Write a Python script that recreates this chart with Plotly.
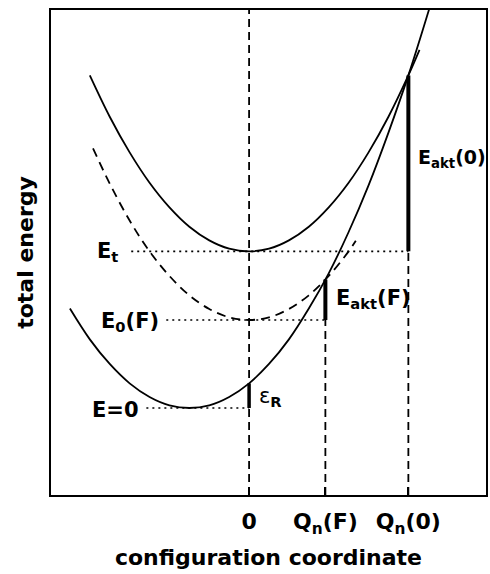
import plotly.graph_objects as go

# ---- data ----
ground_q = [-2.25, -2.0, -1.75, -1.5, -1.25, -1.0, -0.75, -0.5, -0.25, 0.0, 0.25, 0.5, 0.75, 1.0, 1.25, 1.5, 1.75, 2.0, 2.25, 2.4]
ground_e = [1.13, 0.78, 0.50, 0.28, 0.125, 0.03, 0.0, 0.03, 0.125, 0.28, 0.50, 0.78, 1.13, 1.53, 2.0, 2.53, 3.13, 3.78, 4.5, 4.96]

upper_q = [-2.0, -1.75, -1.5, -1.25, -1.0, -0.75, -0.5, -0.25, 0.0, 0.25, 0.5, 0.75, 1.0, 1.25, 1.5, 1.75, 2.0, 2.14]
upper_e = [3.78, 3.31, 2.905, 2.56, 2.28, 2.06, 1.905, 1.81, 1.78, 1.81, 1.905, 2.06, 2.28, 2.56, 2.905, 3.31, 3.78, 4.07]

field_q = [-1.96, -1.75, -1.5, -1.25, -1.0, -0.75, -0.5, -0.25, 0.0, 0.25, 0.5, 0.75, 1.0, 1.25, 1.34]
field_e = [2.95, 2.55, 2.13, 1.78, 1.5, 1.28, 1.125, 1.03, 1.0, 1.03, 1.125, 1.28, 1.5, 1.78, 1.9]

tick_vals = [0.0, 0.958, 2.0]
tick_text = ["0", "Q<sub>n</sub>(F)", "Q<sub>n</sub>(0)"]

E_t = 1.78
E0_F = 1.0
E_zero = 0.0
eps_R_top = 0.28
Eakt_F_top = 1.46
Eakt_0_top = 3.78
Q_zero, Q_nF, Q_n0 = tick_vals

# level line starts (left ends of dotted lines)
Et_start, E0F_start, Ezero_start = -1.48, -1.04, -1.29

X_RANGE = [-2.4875, 2.975]
Y_RANGE = [-0.989, 4.523]

FONT = "DejaVu Sans"
BLACK = "black"

fig = go.Figure()

def line(x, y, width=1.8, dash="solid", shape="linear"):
    fig.add_trace(go.Scatter(x=x, y=y, mode="lines", line=dict(color=BLACK, width=width, dash=dash, shape=shape),
                             hoverinfo="skip", showlegend=False))

# parabolas
line(ground_q, ground_e, shape="spline")
line(upper_q, upper_e, shape="spline")
line(field_q, field_e, dash="9px,6px", shape="spline")

# vertical dashed lines
line([Q_zero, Q_zero], [Y_RANGE[0], Y_RANGE[1]], width=1.8, dash="8px,5px")
line([Q_nF, Q_nF], [Y_RANGE[0], E0_F], width=1.8, dash="8px,5px")
line([Q_n0, Q_n0], [Y_RANGE[0], E_t], width=1.8, dash="8px,5px")

# dotted level lines
line([Et_start, Q_n0], [E_t, E_t], width=1.6, dash="2px,4px")
line([E0F_start, Q_nF], [E0_F, E0_F], width=1.6, dash="2px,4px")
line([Ezero_start, Q_zero], [E_zero, E_zero], width=1.6, dash="2px,4px")

# thick energy bars
line([Q_zero, Q_zero], [E_zero, eps_R_top], width=3.5)
line([Q_nF, Q_nF], [E0_F, Eakt_F_top], width=4)
line([Q_n0, Q_n0], [E_t, Eakt_0_top], width=4)

def label(x, y, text, xanchor, size=21):
    fig.add_annotation(x=x, y=y, text=text, showarrow=False, xanchor=xanchor, yanchor="middle",
                       font=dict(family=FONT, size=size, color=BLACK, weight="bold"), xref="x", yref="y")

label(-1.625, 1.77, "E<sub>t</sub>", "right")
label(-1.104, 0.98, "E<sub>0</sub>(F)", "right")
label(-1.354, -0.02, "E=0", "right")
label(1.0625, 1.24, "E<sub>akt</sub>(F)", "left")
label(2.09, 2.83, "E<sub>akt</sub>(0)", "left", size=19)
label(0.1, 0.13, "<span style='font-weight:normal'>ε</span><sub>R</sub>", "left")

fig.update_layout(
    width=490, height=574,
    margin=dict(l=51, r=2, t=10, b=79),
    paper_bgcolor="white", plot_bgcolor="white",
    showlegend=False,
    xaxis=dict(range=X_RANGE, showgrid=False, zeroline=False, showline=True, mirror=True,
               linecolor=BLACK, linewidth=1.5, ticks="inside", ticklen=8, tickwidth=1.5, tickcolor=BLACK,
               tickvals=tick_vals, ticktext=tick_text, ticklabelstandoff=6,
               tickfont=dict(family=FONT, size=22, color=BLACK, weight="bold"),
               title=dict(text="configuration coordinate", standoff=13,
                          font=dict(family=FONT, size=22, color=BLACK, weight="bold"))),
    yaxis=dict(range=Y_RANGE, showgrid=False, zeroline=False, showline=True, mirror=True,
               linecolor=BLACK, linewidth=1.5, ticks="", showticklabels=False,
               title=dict(text="total energy", standoff=10,
                          font=dict(family=FONT, size=22, color=BLACK, weight="bold"))),
)

fig.write_html("out.html")
